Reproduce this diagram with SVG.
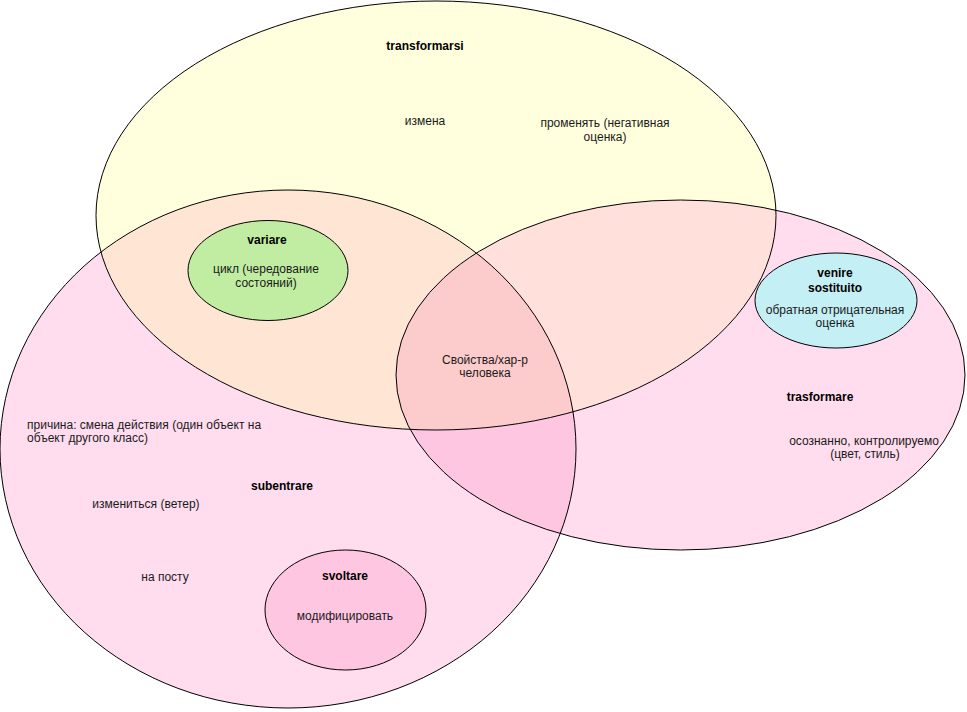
<svg xmlns="http://www.w3.org/2000/svg" xmlns:xlink="http://www.w3.org/1999/xlink" width="967" height="712" viewBox="0 0 967 712">
<style>
text{font-family:"Liberation Sans",Arial,sans-serif;font-size:12px;fill:#1a1a1a;text-anchor:middle}
.b{font-weight:bold;fill:#000}
.l{text-anchor:start}
.ol{fill:none;stroke:#000;stroke-width:1}
.sm{stroke:#000;stroke-width:1}
</style>
<defs>
<ellipse id="eY" cx="436" cy="215.5" rx="340" ry="214.5"/>
<ellipse id="eL" cx="288" cy="449" rx="288" ry="259"/>
<ellipse id="eR" cx="680.5" cy="375" rx="284.5" ry="175"/>
<clipPath id="cY"><use href="#eY"/></clipPath>
<clipPath id="cL"><use href="#eL"/></clipPath>
<clipPath id="cR"><use href="#eR"/></clipPath>
</defs>
<rect width="967" height="712" fill="#fff"/>
<g id="subentrare"><use href="#eL" fill="#FFDDEE"/></g>
<g id="transformarsi"><use href="#eY" fill="#FFFFDD"/></g>
<g id="trasformare"><use href="#eR" fill="#FFDDEE"/></g>
<g id="overlaps">
<use href="#eL" fill="#FFE5D4" clip-path="url(#cY)"/>
<use href="#eR" fill="#FFE0DA" clip-path="url(#cY)"/>
<use href="#eR" fill="#FFC6E2" clip-path="url(#cL)"/>
<g clip-path="url(#cR)"><use href="#eL" fill="#FCCCCC" clip-path="url(#cY)"/></g>
</g>
<g id="outlines">
<use href="#eL" class="ol"/>
<use href="#eY" class="ol"/>
<use href="#eR" class="ol"/>
</g>
<g id="transformarsi-labels">
<text class="b" x="425" y="50">transformarsi</text>
<text x="425" y="125">измена</text>
<text x="605" y="127">променять (негативная</text>
<text x="605" y="141">оценка)</text>
</g>
<g id="trasformare-labels">
<text class="b" x="820" y="401">trasformare</text>
<text x="864" y="445">осознанно, контролируемо</text>
<text x="865" y="458">(цвет, стиль)</text>
</g>
<g id="subentrare-labels">
<text class="l" x="27" y="429">причина: смена действия (один объект на</text>
<text class="l" x="27" y="442">объект другого класс)</text>
<text class="b" x="282" y="490">subentrare</text>
<text x="146" y="508">измениться (ветер)</text>
<text x="165" y="581">на посту</text>
</g>
<g id="common">
<text x="485" y="364">Свойства/хар-р</text>
<text x="485" y="377">человека</text>
</g>
<g id="variare">
<ellipse class="sm" cx="268" cy="270.5" rx="80" ry="50" fill="#C1EDA3"/>
<text class="b" x="267" y="244">variare</text>
<text x="266" y="273">цикл (чередование</text>
<text x="266" y="287">состояний)</text>
</g>
<g id="venire-sostituito">
<ellipse class="sm" cx="836" cy="300.5" rx="81" ry="47.5" fill="#C4EFF5"/>
<text class="b" x="835" y="277">venire</text>
<text class="b" x="835" y="292">sostituito</text>
<text x="835" y="314">обратная отрицательная</text>
<text x="835" y="327">оценка</text>
</g>
<g id="svoltare">
<ellipse class="sm" cx="345.5" cy="610" rx="80.5" ry="60" fill="#FFC6E2"/>
<text class="b" x="345" y="580">svoltare</text>
<text x="345" y="620">модифицировать</text>
</g>
</svg>
